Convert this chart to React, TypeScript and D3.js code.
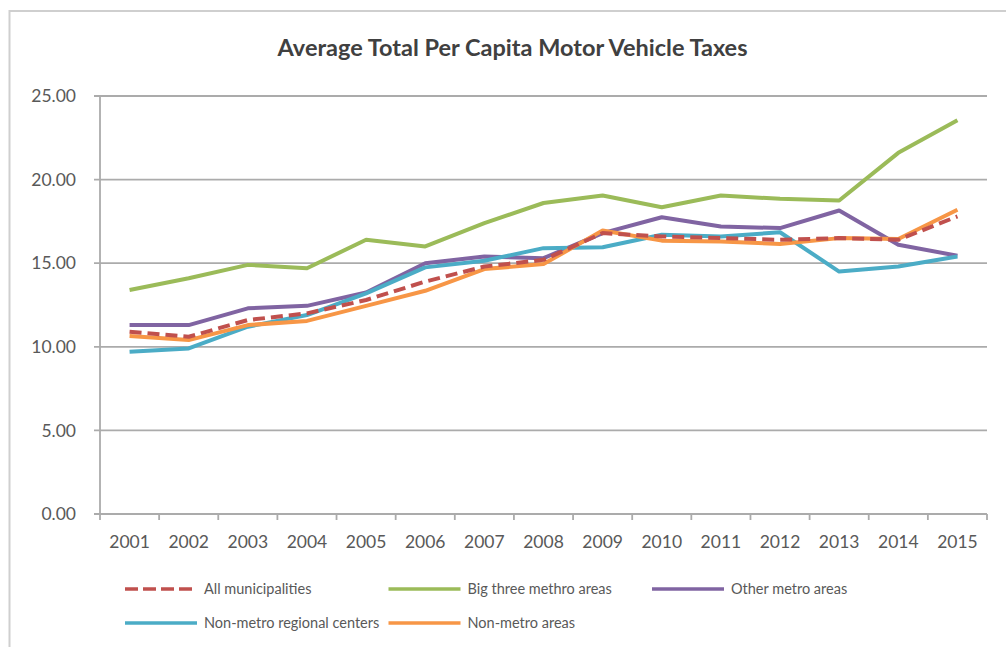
import React from "react";
import * as d3 from "d3";

const years = ["2001","2002","2003","2004","2005","2006","2007","2008","2009","2010","2011","2012","2013","2014","2015"];
const allMunicipalities = [10.9, 10.6, 11.6, 12.0, 12.8, 13.9, 14.8, 15.2, 16.8, 16.6, 16.5, 16.4, 16.5, 16.4, 17.8];
const bigThree = [13.4, 14.1, 14.9, 14.7, 16.4, 16.0, 17.4, 18.6, 19.05, 18.35, 19.05, 18.85, 18.75, 21.6, 23.55];
const otherMetro = [11.3, 11.3, 12.3, 12.45, 13.25, 15.0, 15.4, 15.3, 16.8, 17.75, 17.2, 17.1, 18.15, 16.1, 15.45];
const nonMetroRegional = [9.7, 9.9, 11.2, 11.9, 13.2, 14.75, 15.15, 15.9, 15.95, 16.7, 16.6, 16.85, 14.5, 14.8, 15.4];
const nonMetro = [10.65, 10.4, 11.3, 11.55, 12.45, 13.35, 14.65, 14.95, 16.95, 16.35, 16.3, 16.15, 16.5, 16.45, 18.2];
const yTicks = [0, 5, 10, 15, 20, 25];
const seriesNames = ["All municipalities", "Big three methro areas", "Other metro areas", "Non-metro regional centers", "Non-metro areas"];
const seriesColors = ["#C0504D", "#9BBB59", "#8064A2", "#4BACC6", "#F79646"];
const title = "Average Total Per Capita Motor Vehicle Taxes";

const seriesValues = [allMunicipalities, bigThree, otherMetro, nonMetroRegional, nonMetro];
const drawOrder = [1, 2, 3, 4, 0];

export default function App() {
  const W = 1006, H = 647;
  const x = d3.scaleBand<string>().domain(years).range([100, 987]).padding(0);
  const y = d3.scaleLinear().domain([0, 25]).range([514, 96]);
  const cx = (yr: string) => (x(yr) as number) + x.bandwidth() / 2;
  const line = d3.line<number>().x((_, i) => cx(years[i])).y((v) => y(v));
  const font = "Lato, 'Open Sans', sans-serif";
  const gridColor = "#ABABAB";
  const textColor = "#595959";

  return (
    <svg width={W} height={H} style={{ position: "absolute", left: 0, top: 0, background: "#fff" }}>
      <rect x={0} y={0} width={W} height={H} fill="#fff" />
      {/* chart border */}
      <path d={`M9.5,${H} V11 H${W}`} fill="none" stroke="#CFCFCF" strokeWidth={2} />
      <text x={512.5} y={56} textAnchor="middle" fontFamily={font} fontWeight={700} fontSize={23.5} fill="#404040">{title}</text>
      {/* gridlines */}
      {yTicks.map((t) => (
        <g key={t}>
          <line x1={94} x2={987} y1={y(t)} y2={y(t)} stroke={gridColor} strokeWidth={1.8} />
          <text x={76} y={y(t)} dy="0.35em" textAnchor="end" fontFamily={font} fontSize={17.5} fill={textColor}>{t.toFixed(2)}</text>
        </g>
      ))}
      {/* y axis */}
      <line x1={100} x2={100} y1={y(25)} y2={y(0)} stroke={gridColor} strokeWidth={1.8} />
      {/* x ticks */}
      {years.map((yr) => (
        <line key={"t" + yr} x1={x(yr) as number} x2={x(yr) as number} y1={y(0)} y2={y(0) + 6} stroke={gridColor} strokeWidth={1.8} />
      ))}
      <line x1={987} x2={987} y1={y(0)} y2={y(0) + 6} stroke={gridColor} strokeWidth={1.8} />
      {years.map((yr) => (
        <text key={"l" + yr} x={cx(yr)} y={548} textAnchor="middle" fontFamily={font} fontSize={17.5} fill={textColor}>{yr}</text>
      ))}
      {/* lines */}
      {drawOrder.map((i) => (
        <path key={"s" + i} d={line(seriesValues[i]) || ""} fill="none" stroke={seriesColors[i]} strokeWidth={4}
          strokeLinejoin="round" strokeDasharray={i === 0 ? "12 6" : undefined} />
      ))}
      {/* legend */}
      {seriesNames.map((name, i) => {
        const col = i % 3, row = Math.floor(i / 3);
        const lx = 125 + col * 263.5;
        const ly = 589 + row * 34;
        return (
          <g key={"lg" + i}>
            <line x1={lx} x2={lx + 72} y1={ly} y2={ly} stroke={seriesColors[i]} strokeWidth={3.5}
              strokeDasharray={i === 0 ? "13 5" : undefined} />
            <text x={lx + 79} y={ly} dy="0.35em" fontFamily={font} fontSize={14.5} fill={textColor}>{name}</text>
          </g>
        );
      })}
    </svg>
  );
}
